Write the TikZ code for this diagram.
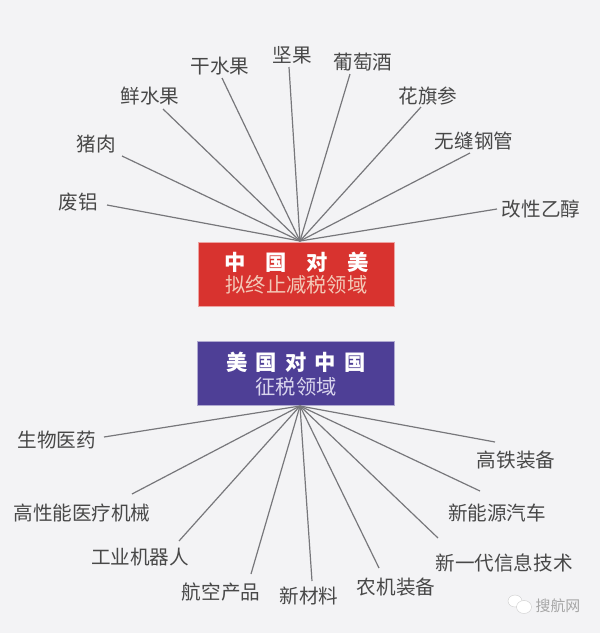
\documentclass[tikz,border=0pt]{standalone}
\usepackage{fontspec}
\setmainfont{Noto Sans CJK SC}
\definecolor{bgc}{HTML}{F3F3F5}
\definecolor{redbox}{HTML}{D8332F}
\definecolor{bluebox}{HTML}{4E3F96}
\definecolor{labelc}{HTML}{484848}
\definecolor{linec}{HTML}{77777B}
\definecolor{peach}{HTML}{F3C9B8}
\definecolor{lilac}{HTML}{DAD6EE}
\tikzset{
  lbl/.style={text=labelc,font=\fontsize{14.7pt}{16pt}\selectfont,inner sep=0pt},
  spoke/.style={draw=linec,line width=0.9pt},
  panel/.style={minimum width=147.5pt,minimum height=48pt,inner sep=0pt},
  headtext/.style={text=white,font=\bfseries\fontsize{16pt}{18pt}\selectfont,inner sep=0pt},
  subtext/.style={font=\fontsize{15.2pt}{17pt}\selectfont,inner sep=0pt},
  bubble/.style={fill=white,draw=gray!40,line width=0.3pt}
}
\begin{document}
\begin{tikzpicture}[x=0.75pt,y=-0.75pt]
\useasboundingbox (0,0) rectangle (600,633);
\fill[bgc] (0,0) rectangle (600,633);

% panels
\node[panel,fill=redbox,draw=redbox!45,line width=0.6pt] (redp) at (296.5,274) {};
\node[panel,fill=bluebox,draw=bluebox!45,line width=0.6pt] (bluep) at (296,373) {};
\node[headtext] (redhead) at (296.5,262) {中\hspace{14.75pt}国\hspace{14.75pt}对\hspace{14.75pt}美};
\node[subtext,text=peach] (redsub) at (296.5,285) {拟终止减税领域};
\node[headtext] (bluehead) at (296,362) {美\hspace{6.1pt}国\hspace{6.1pt}对\hspace{6.1pt}中\hspace{6.1pt}国};
\node[subtext,text=lilac] (bluesub) at (296,387) {征税领域};

\coordinate (hubA) at (300,241);
\coordinate (hubB) at (300,406);

% top labels
\node[lbl] (t1) at (78,202) {废铝};
\node[lbl] (t2) at (96,144) {猪肉};
\node[lbl] (t3) at (150,96) {鲜水果};
\node[lbl] (t4) at (220,66) {干水果};
\node[lbl] (t5) at (292,55) {坚果};
\node[lbl] (t6) at (363,62) {葡萄酒};
\node[lbl] (t7) at (428,96) {花旗参};
\node[lbl] (t8) at (474,141) {无缝钢管};
\node[lbl] (t9) at (541,209) {改性乙醇};

% bottom labels
\node[lbl] (b1) at (57,440) {生物医药};
\node[lbl] (b2) at (82,513) {高性能医疗机械};
\node[lbl] (b3) at (140,557) {工业机器人};
\node[lbl] (b4) at (221,592) {航空产品};
\node[lbl] (b5) at (309,596) {新材料};
\node[lbl] (b6) at (396,587) {农机装备};
\node[lbl] (b7) at (504,563) {新一代信息技术};
\node[lbl] (b8) at (497,513) {新能源汽车};
\node[lbl] (b9) at (516,460) {高铁装备};

% free line ends
\coordinate (e1) at (107,205);
\coordinate (e2) at (122,156);
\coordinate (e3) at (163,109);
\coordinate (e4) at (222,78);
\coordinate (e5) at (289,67);
\coordinate (e6) at (350,74);
\coordinate (e7) at (421,107);
\coordinate (e8) at (470,153);
\coordinate (e9) at (497,209);
\coordinate (f1) at (104,437);
\coordinate (f2) at (132,494);
\coordinate (f3) at (179,541);
\coordinate (f4) at (251,574);
\coordinate (f5) at (312,581);
\coordinate (f6) at (379,568);
\coordinate (f7) at (438,538);
\coordinate (f8) at (480,491);
\coordinate (f9) at (495,442);

\foreach \n in {1,...,9} {
  \draw[spoke] (e\n) -- (hubA);
  \draw[spoke] (f\n) -- (hubB);
}

% watermark
\draw[bubble] (515,601) ellipse (7 and 6);
\draw[bubble] (524,607) ellipse (7.5 and 6.5);
\node[inner sep=0pt,text=gray!70,font=\fontsize{11.2pt}{13pt}\selectfont] (mark) at (558,606) {搜航网};
\end{tikzpicture}
\end{document}
